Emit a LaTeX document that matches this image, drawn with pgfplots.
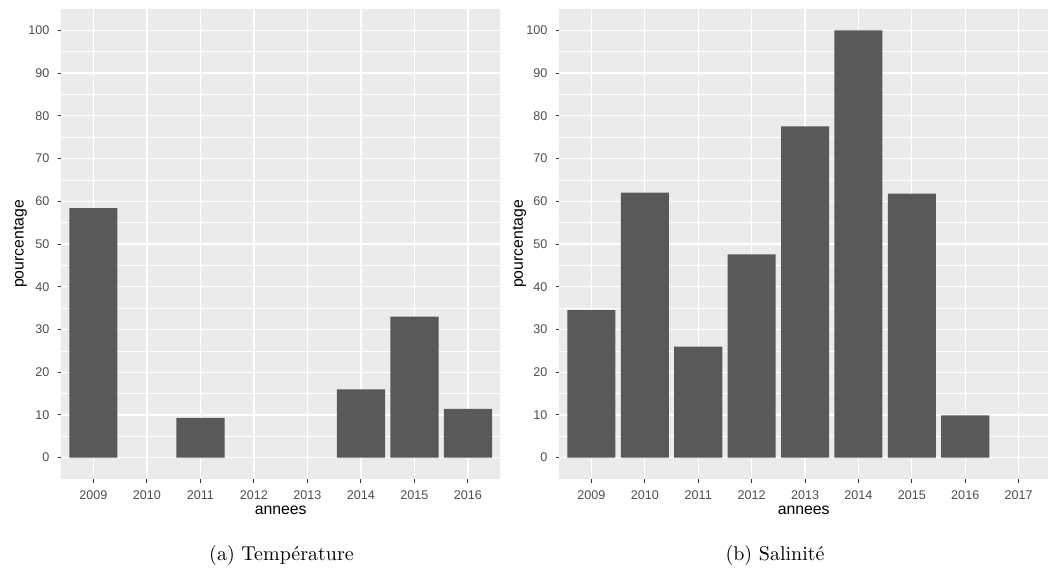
\documentclass[border=0pt]{standalone}
\usepackage{fontspec}
\usepackage{pgfplots}
\pgfplotsset{compat=1.18}
\newfontfamily\ggfont{Liberation Sans}
\definecolor{ggbg}{HTML}{EBEBEB}
\definecolor{ggbar}{HTML}{595959}
\definecolor{ggtick}{HTML}{4D4D4D}
\definecolor{ggtickline}{HTML}{333333}
\pgfplotsset{
  ggstyle/.style={
    scale only axis,
    height=235pt,
    ymin=-5, ymax=105,
    ytick={0,10,...,100},
    minor ytick={5,15,...,95},
    xtick={0,...,8},
    axis background/.style={fill=ggbg},
    axis line style={draw=none},
    grid=both,
    major grid style={white, line width=0.6pt},
    minor grid style={white, line width=0.3pt},
    tick align=outside,
    major tick length=1.8pt,
    minor tick length=0pt,
    tick style={ggtickline, line width=0.5pt},
    xtick pos=bottom, ytick pos=left,
    /pgf/number format/assume math mode=true,
    ticklabel style={font=\ggfont\fontsize{6.3}{7}\selectfont, text=ggtick},
    yticklabel style={anchor=east, inner sep=0pt, xshift=-4pt},
    xticklabel style={anchor=center, inner sep=0pt, yshift=-6.35pt},
    label style={font=\ggfont\fontsize{7.9}{9}\selectfont, text=black},
    xlabel style={at={([yshift=-15.85pt]axis description cs:0.5,0)}, anchor=center},
    ylabel style={anchor=center, rotate=0},
    ybar, bar width=0.9,
    xlabel={annees}, ylabel={pourcentage},
  }
}
\begin{document}
\begin{tikzpicture}
\path[use as bounding box] (0,0) rectangle (524pt,284pt);
\begin{axis}[ggstyle,
  at={(30.65pt,44.5pt)}, anchor=south west,
  width=219.4pt,
  xmin=-0.6, xmax=7.6,
  xtick={0,...,7},
  xticklabels={2009,2010,2011,2012,2013,2014,2015,2016},
  ylabel style={at={([xshift=-20.6pt]axis description cs:0,0.5)}},
]
\addplot[fill=ggbar, draw=none] coordinates {(0,58.4) (2,9.3) (5,16.0) (6,33.0) (7,11.4)};
\end{axis}
\begin{axis}[ggstyle,
  at={(279.7pt,44.5pt)}, anchor=south west,
  width=244.3pt,
  xmin=-0.6, xmax=8.55,
  xtick={0,...,8},
  xticklabels={2009,2010,2011,2012,2013,2014,2015,2016,2017},
  ylabel style={at={([xshift=-20pt]axis description cs:0,0.5)}},
]
\addplot[fill=ggbar, draw=none] coordinates {(0,34.5) (1,62.0) (2,26.0) (3,47.6) (4,77.5) (5,100) (6,61.8) (7,9.9)};
\end{axis}
\node at (140.75pt,6.5pt) {(a) Température};
\node at (387.5pt,6.5pt) {(b) Salinité};
\end{tikzpicture}
\end{document}
